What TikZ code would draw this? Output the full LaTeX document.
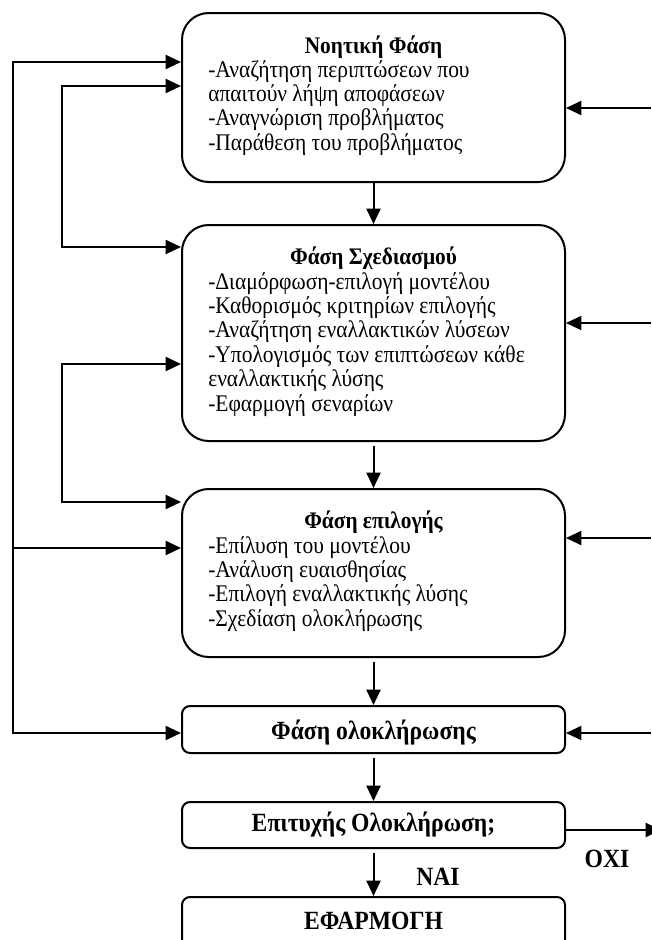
\documentclass[tikz,border=0pt]{standalone}
\usepackage{fontspec}
\setmainfont{Liberation Serif}[FakeStretch=0.9]
\usetikzlibrary{arrows.meta}
\begin{document}
\begin{tikzpicture}[x=0.75pt,y=-0.75pt,
  bigbox/.style={draw, line width=1.5pt, rounded corners=20pt, minimum width=383*0.75pt, inner sep=0pt},
  smallbox/.style={draw, line width=1.5pt, rounded corners=6pt, minimum width=383*0.75pt, inner sep=0pt},
  conn/.style={line width=1.5pt, -{Triangle[length=11.5pt,width=10.5pt]}},
  conn2/.style={line width=1.5pt, {Triangle[length=11.5pt,width=10.5pt]}-{Triangle[length=11.5pt,width=10.5pt]}},
  ttl/.style={font=\bfseries\fontsize{17.8}{18.3}\selectfont, inner sep=0pt, anchor=base},
  body/.style={font=\fontsize{17.9}{18.3}\selectfont, inner sep=0pt, anchor=base west},
  bigt/.style={font=\bfseries\fontsize{19.7}{20}\selectfont, inner sep=0pt, anchor=base},
]
\useasboundingbox (0,0) rectangle (651,940);
% boxes
\node[bigbox, minimum height=169*0.75pt] (b1) at (373.5,97.5) {};
\node[bigbox, minimum height=216*0.75pt] (b2) at (373.5,333) {};
\node[bigbox, minimum height=168*0.75pt] (b3) at (373.5,573) {};
\node[smallbox, minimum height=47*0.75pt] (b4) at (373.5,729.5) {};
\node[smallbox, minimum height=46*0.75pt] (b5) at (373.5,825) {};
\node[smallbox, minimum height=70*0.75pt] (b6) at (373.5,932) {};
% texts
\node[ttl] (t1) at (373.5,53) {Νοητική Φάση};
\node[body] (x1) at (208,77) {\begin{tabular}[t]{@{}l@{}}-Αναζήτηση περιπτώσεων που\\απαιτούν λήψη αποφάσεων\\-Αναγνώριση προβλήματος\\-Παράθεση του προβλήματος\end{tabular}};
\node[ttl] (t2) at (373.5,264) {Φάση Σχεδιασμού};
\node[body] (x2) at (208,289) {\begin{tabular}[t]{@{}l@{}}-Διαμόρφωση-επιλογή μοντέλου\\-Καθορισμός κριτηρίων επιλογής\\-Αναζήτηση εναλλακτικών λύσεων\\-Υπολογισμός των επιπτώσεων κάθε\\εναλλακτικής λύσης\\-Εφαρμογή σεναρίων\end{tabular}};
\node[ttl] (t3) at (373.5,528) {Φάση επιλογής};
\node[body] (x3) at (208,553) {\begin{tabular}[t]{@{}l@{}}-Επίλυση του μοντέλου\\-Ανάλυση ευαισθησίας\\-Επιλογή εναλλακτικής λύσης\\-Σχεδίαση ολοκλήρωσης\end{tabular}};
\node[bigt] (t4) at (373.5,739) {Φάση ολοκλήρωσης};
\node[bigt] (t5) at (373.5,831) {Επιτυχής Ολοκλήρωση;};
\node[bigt] (t6) at (373.5,929) {ΕΦΑΡΜΟΓΗ};
\node[bigt] (no) at (607,867) {ΟΧΙ};
\node[bigt] (yes) at (438,885) {ΝΑΙ};
% vertical flow
\draw[conn] (b1.south) -- (b2.north);
\draw[conn, shorten <=3pt] (b2.south) -- (b3.north);
\draw[conn, shorten <=3pt] (b3.south) -- (b4.north);
\draw[conn, shorten <=3pt] (b4.south) -- (b5.north);
\draw[conn, shorten <=3pt] (b5.south) -- (b6.north);
% left feedback
\coordinate (oa) at (13,62);
\coordinate (ob) at (13,548);
\coordinate (oc) at (13,733);
\draw[conn2] (b1.west |- oa) -- (oa) -- (oc) -- (b4.west |- oc);
\draw[conn] (ob) -- (b3.west |- ob);
\coordinate (ia) at (62,86);
\coordinate (ib) at (62,247);
\draw[conn2] (b1.west |- ia) -- (ia) -- (ib) -- (b2.west |- ib);
\coordinate (ic) at (62,364);
\coordinate (id) at (62,502);
\draw[conn2] (b2.west |- ic) -- (ic) -- (id) -- (b3.west |- id);
% right inputs
\coordinate (ra) at (651,108);
\coordinate (rb) at (651,323);
\coordinate (rc) at (651,538);
\coordinate (rd) at (651,733);
\coordinate (re) at (661,830);
\draw[conn] (ra) -- (b1.east |- ra);
\draw[conn] (rb) -- (b2.east |- rb);
\draw[conn] (rc) -- (b3.east |- rc);
\draw[conn] (rd) -- (b4.east |- rd);
\draw[conn] (b5.east |- re) -- (re);
\end{tikzpicture}
\end{document}
